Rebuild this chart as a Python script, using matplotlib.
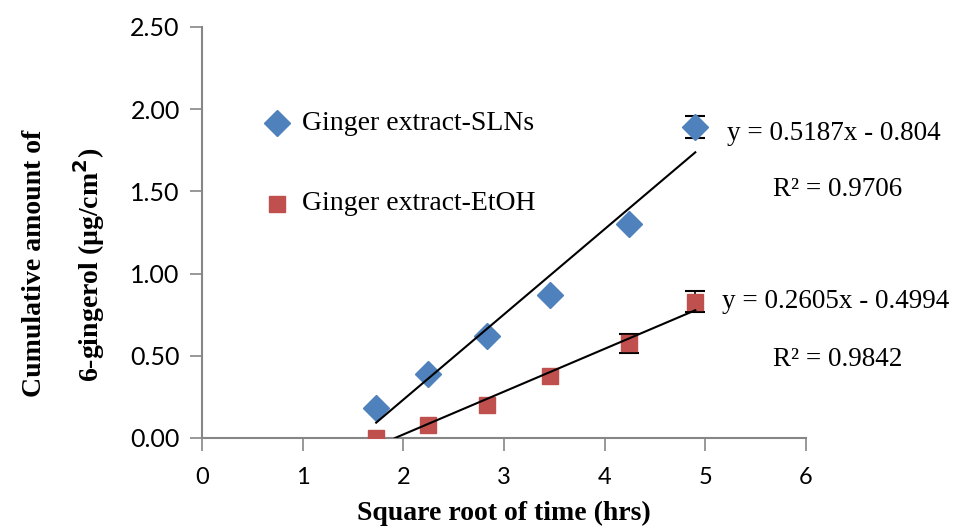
import numpy as np
import matplotlib
matplotlib.use("Agg")
import matplotlib.pyplot as plt

# data (error bars hidden by markers are taken as 0)
x_time = [1.73, 2.24, 2.83, 3.46, 4.24, 4.90]
sln = [0.18, 0.39, 0.62, 0.87, 1.30, 1.89]
sln_err = [0.0, 0.0, 0.0, 0.0, 0.0, 0.067]
etoh = [0.00, 0.08, 0.20, 0.38, 0.575, 0.83]
etoh_err = [0.0, 0.0, 0.0, 0.0, 0.055, 0.063]

sln_fit = (0.5187, -0.804)
etoh_fit = (0.2605, -0.4994)

blue = '#4F81BD'
red = '#C0504D'
grey = '#868686'
serif = 'Liberation Serif'
sans = 'Lato'

fig = plt.figure(figsize=(9.63, 5.30), dpi=100)
ax = fig.add_axes([0.2098, 0.1736, 0.6272, 0.7755])

# markers on top, error bars underneath
sln_idx = [i for i, e in enumerate(sln_err) if e > 0]
etoh_idx = [i for i, e in enumerate(etoh_err) if e > 0]
ax.errorbar([x_time[i] for i in sln_idx], [sln[i] for i in sln_idx],
            yerr=[sln_err[i] for i in sln_idx], fmt='none', ecolor='black',
            elinewidth=1.2, capsize=7, capthick=1.5, zorder=2)
ax.errorbar([x_time[i] for i in etoh_idx], [etoh[i] for i in etoh_idx],
            yerr=[etoh_err[i] for i in etoh_idx], fmt='none', ecolor='black',
            elinewidth=1.2, capsize=7, capthick=1.5, zorder=2)
ax.plot(x_time, sln, 'D', color=blue, ms=13, zorder=3)
ax.plot(x_time, etoh, 's', color=red, ms=11, zorder=3)

# linear trendlines (Excel style, clipped at y = 0)
xs = np.linspace(x_time[0], x_time[-1], 200)
ax.plot(xs, sln_fit[0] * xs + sln_fit[1], color='black', lw=1.5, zorder=4)
x0 = -etoh_fit[1] / etoh_fit[0]
xe = np.linspace(x0, x_time[-1], 200)
ax.plot(xe, etoh_fit[0] * xe + etoh_fit[1], color='black', lw=1.5, zorder=4)

ax.set_xlim(0, 6)
ax.set_ylim(0, 2.5)
ax.set_xticks(range(0, 7))
ax.set_yticks(np.arange(0, 2.51, 0.5))
ax.set_yticklabels([f'{v:.2f}' for v in np.arange(0, 2.51, 0.5)])

for s in ['top', 'right']:
    ax.spines[s].set_visible(False)
for s in ['left', 'bottom']:
    ax.spines[s].set_color(grey)
    ax.spines[s].set_linewidth(1.5)
ax.tick_params(axis='both', colors=grey, length=9, width=1.2, direction='out',
               labelcolor='black')
ax.tick_params(axis='x', pad=12, labelsize=17)
ax.tick_params(axis='y', pad=7, labelsize=18)
for lab in ax.get_xticklabels() + ax.get_yticklabels():
    lab.set_fontfamily(sans)
ax.patch.set_alpha(0)

ax.set_xlabel('Square root of time (hrs)', fontfamily=serif, fontweight='bold',
              fontsize=20, labelpad=9)
fig.text(0.036, 0.504, 'Cumulative amount of', rotation=90, fontfamily=serif,
         fontweight='bold', fontsize=20, ha='center', va='center')
fig.text(0.092, 0.500, '6-gingerol (µg/cm$^{\\mathbf{2}}$)', rotation=90,
         fontfamily=serif, fontweight='bold', fontsize=20, ha='center', va='center')

# legend drawn manually to match placement
ax.plot([0.745], [1.915], 'D', color=blue, ms=13, clip_on=False)
ax.text(0.99, 1.915, 'Ginger extract-SLNs', fontfamily=serif, fontsize=20,
        va='center', ha='left')
ax.plot([0.745], [1.425], 's', color=red, ms=11, clip_on=False)
ax.text(0.99, 1.425, 'Ginger extract-EtOH', fontfamily=serif, fontsize=20,
        va='center', ha='left')

# trendline equations
fig.text(0.755, 1 - 133 / 530, 'y = 0.5187x - 0.804', fontfamily=serif, fontsize=19.5,
         va='center', ha='left')
fig.text(0.803, 1 - 190 / 530, 'R² = 0.9706', fontfamily=serif, fontsize=19.5,
         va='center', ha='left')
fig.text(0.750, 1 - 302 / 530, 'y = 0.2605x - 0.4994', fontfamily=serif, fontsize=19.5,
         va='center', ha='left')
fig.text(0.803, 1 - 360 / 530, 'R² = 0.9842', fontfamily=serif, fontsize=19.5,
         va='center', ha='left')

fig.savefig('out.png', dpi=100)
